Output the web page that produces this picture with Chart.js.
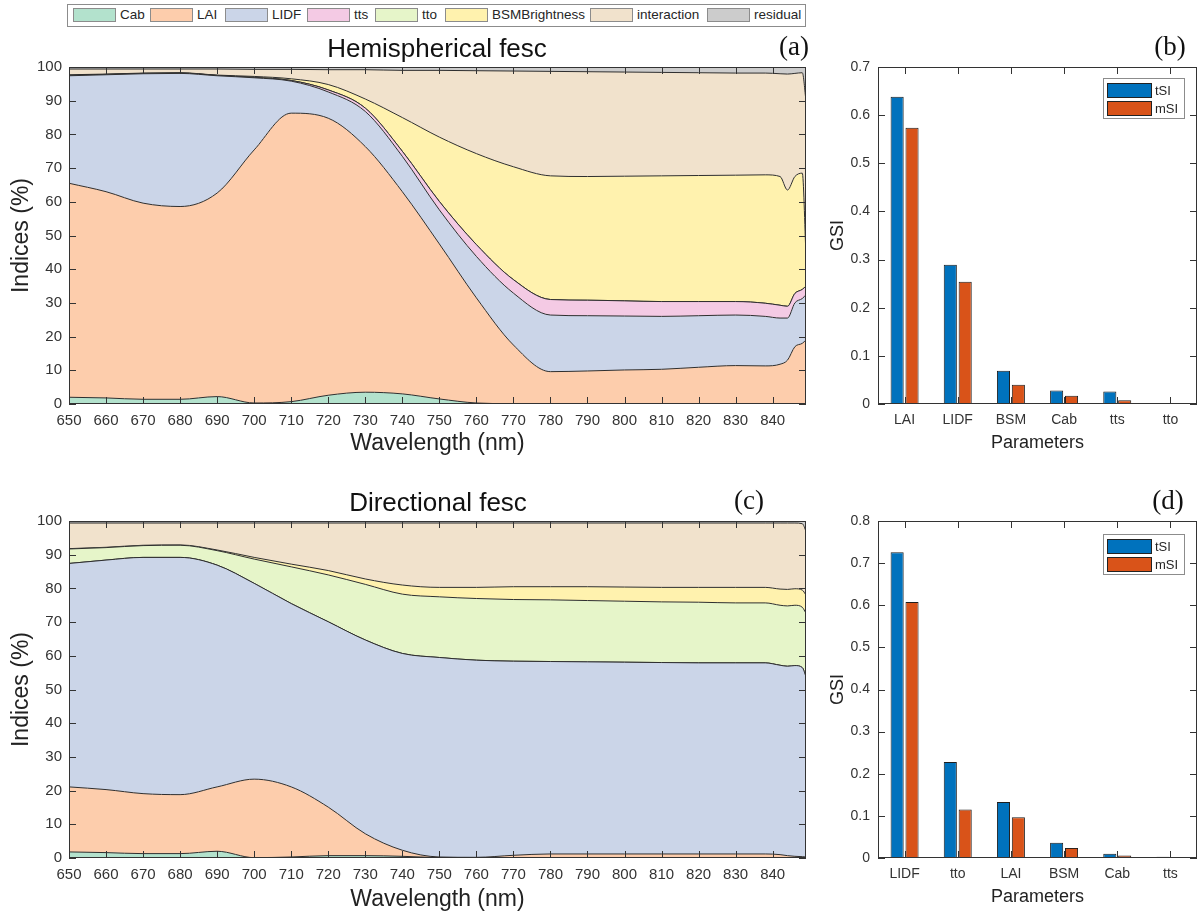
<!DOCTYPE html>
<html>
<head>
<meta charset="utf-8">
<title>fesc sensitivity</title>
<script src="https://cdn.jsdelivr.net/npm/chart.js@4.4.1/dist/chart.umd.min.js"></script>
<style>
  html, body { margin: 0; padding: 0; background: #fff; }
  body { width: 1203px; height: 915px; position: relative; overflow: hidden;
         font-family: "Liberation Sans", Arial, sans-serif; color: #262626; }
  canvas { position: absolute; }
  .lbl { position: absolute; transform: translate(-50%, -50%); white-space: nowrap; line-height: 1; }
  .ttl { font-size: 26px; color: #111; }
  .tag { font-family: "Liberation Serif", "Times New Roman", serif; font-size: 27px; color: #111; }
  #legend { position: absolute; left: 67px; top: 4px; width: 737px; height: 21px;
            border: 1px solid #8c8c8c; background: #fff; }
  .patch { position: absolute; width: 41px; height: 12px; border: 1px solid #8c8c8c; }
  .ltxt { position: absolute; font-size: 13.5px; line-height: 1; color: #262626; }
  .blegend { position: absolute; left: 1103px; width: 80px; height: 39px;
             border: 1px solid #8c8c8c; background: #fff; }
  .bpatch { position: absolute; left: 3px; width: 43px; height: 13px; border: 1px solid #222; }
  .btxt { position: absolute; left: 51px; font-size: 13px; line-height: 1; color: #262626; }
</style>
</head>
<body>
<div id="legend"></div>

<canvas id="chartA" width="820" height="415" style="left:0px;top:55px"></canvas>
<canvas id="chartB" width="383" height="415" style="left:820px;top:55px"></canvas>
<canvas id="chartC" width="820" height="415" style="left:0px;top:509px"></canvas>
<canvas id="chartD" width="383" height="415" style="left:820px;top:509px"></canvas>

<div class="lbl ttl" style="left:437px;top:48px">Hemispherical fesc</div>
<div class="lbl tag" style="left:794px;top:46px">(a)</div>
<div class="lbl tag" style="left:1170px;top:46px">(b)</div>
<div class="lbl ttl" style="left:438px;top:502px">Directional fesc</div>
<div class="lbl tag" style="left:749px;top:500px">(c)</div>
<div class="lbl tag" style="left:1168px;top:500px">(d)</div>

<div class="blegend" style="top:78px">
  <div class="bpatch" style="top:4px;background:#0072BD"></div><div class="btxt" style="top:5px">tSI</div>
  <div class="bpatch" style="top:22px;background:#D95319"></div><div class="btxt" style="top:23px">mSI</div>
</div>
<div class="blegend" style="top:534px">
  <div class="bpatch" style="top:4px;background:#0072BD"></div><div class="btxt" style="top:5px">tSI</div>
  <div class="bpatch" style="top:22px;background:#D95319"></div><div class="btxt" style="top:23px">mSI</div>
</div>

<script>
// ---- data ----
const PARAMS = ["Cab", "LAI", "LIDF", "tts", "tto", "BSMBrightness", "interaction", "residual"];
const FILLS = ["#b3e2cd", "#fdcdac", "#cbd5e8", "#f4cae4", "#e6f5c9", "#fff2ae", "#f1e2cc", "#cccccc"];

const WAVELENGTH = [650, 660, 670, 680, 690, 700, 710, 720, 730, 740, 750, 760, 770,
                    780, 790, 800, 810, 820, 830, 838, 842, 844, 846, 848, 849];

// hemispherical fesc, contribution of each term (%)
const hemCab   = [2.0, 1.8, 1.4, 1.4, 2.2, 0.3, 0.7, 2.6, 3.5, 3.0, 1.5, 0.3, 0.1, 0.1, 0.1, 0.1, 0.1, 0.1, 0.1, 0.1, 0.1, 0.1, 0.1, 0.1, 0.1];
const hemLAI   = [63.5, 61.2, 58.2, 57.2, 60.4, 75.1, 85.6, 82.2, 72.9, 60.0, 46.0, 31.2, 17.4, 9.5, 9.7, 10.0, 10.2, 10.8, 11.3, 11.2, 11.7, 12.9, 16.9, 17.9, 18.9];
const hemLIDF  = [31.9, 34.7, 38.4, 39.5, 34.8, 21.4, 9.5, 7.8, 10.4, 10.5, 10.1, 12.3, 15.4, 16.8, 16.4, 16.0, 15.7, 15.3, 15.0, 14.7, 13.7, 12.5, 13.0, 13.3, 13.4];
const hemTts   = [0.1, 0.1, 0.1, 0.1, 0.1, 0.1, 0.2, 0.6, 1.0, 1.5, 2.5, 3.5, 4.0, 4.6, 4.6, 4.5, 4.4, 4.2, 4.0, 3.9, 3.8, 3.5, 2.8, 2.7, 2.6];
const hemTto   = [0, 0, 0, 0, 0, 0, 0, 0, 0, 0, 0, 0, 0, 0, 0, 0, 0, 0, 0, 0, 0, 0, 0, 0, 0];
const hemBSM   = [0.2, 0.1, 0.1, 0.1, 0.1, 0.3, 0.5, 1.6, 2.7, 10.0, 19.1, 27.0, 33.5, 36.7, 36.7, 37.0, 37.3, 37.4, 37.5, 38.1, 38.2, 34.5, 34.7, 34.5, 9.0];
const hemInter = [1.7, 1.5, 1.2, 1.1, 1.8, 2.1, 2.8, 4.4, 8.7, 14.0, 19.8, 24.6, 28.4, 31.0, 31.1, 30.9, 30.7, 30.5, 30.3, 30.2, 30.5, 34.4, 30.6, 29.8, 46.0];
const hemRes   = [0.6, 0.6, 0.6, 0.6, 0.6, 0.7, 0.7, 0.8, 0.8, 1.0, 1.0, 1.1, 1.2, 1.3, 1.4, 1.5, 1.6, 1.7, 1.8, 1.8, 2.0, 2.1, 1.9, 1.7, 10.0];

// directional fesc, contribution of each term (%)
const dirCab   = [1.8, 1.6, 1.3, 1.3, 2.0, 0.1, 0.3, 0.7, 0.7, 0.5, 0.1, 0, 0, 0.1, 0.1, 0.1, 0.1, 0.1, 0.1, 0.1, 0.1, 0.1, 0.1, 0.1, 0.1];
const dirLAI   = [19.3, 18.7, 17.8, 17.5, 19.1, 23.3, 20.8, 14.4, 6.5, 1.8, 0.2, 0.2, 0.8, 1.1, 1.1, 1.1, 1.1, 1.1, 1.1, 1.1, 0.9, 0.6, 0.4, 0.3, 0.2];
const dirLIDF  = [66.3, 68.1, 70.1, 70.4, 65.8, 58.1, 54.4, 55.0, 57.5, 58.4, 59.2, 58.5, 57.6, 57.1, 57.0, 56.9, 56.8, 56.7, 56.7, 56.7, 56.2, 56.2, 56.6, 56.1, 53.5];
const dirTts   = [0, 0, 0, 0, 0, 0, 0, 0, 0, 0, 0, 0, 0, 0, 0, 0, 0, 0, 0, 0, 0, 0, 0, 0, 0];
const dirTto   = [4.3, 3.7, 3.5, 3.6, 4.3, 7.2, 10.9, 13.9, 16.5, 17.6, 18.0, 18.3, 18.3, 18.3, 18.2, 18.1, 18.0, 18.0, 17.8, 17.8, 17.8, 17.9, 17.9, 17.9, 18.8];
const dirBSM   = [0.1, 0.1, 0.1, 0.1, 0.2, 0.5, 0.8, 1.3, 1.6, 2.7, 2.8, 3.3, 3.8, 3.9, 4.1, 4.2, 4.3, 4.4, 4.6, 4.6, 4.8, 4.9, 4.9, 5.1, 5.4];
const dirInter = [7.6, 7.2, 6.6, 6.5, 8.0, 10.2, 12.2, 14.1, 16.6, 18.4, 19.1, 19.1, 18.9, 18.9, 18.9, 19.0, 19.1, 19.1, 19.1, 19.1, 19.6, 19.7, 19.5, 19.7, 19.0];
const dirRes   = [0.6, 0.6, 0.6, 0.6, 0.6, 0.6, 0.6, 0.6, 0.6, 0.6, 0.6, 0.6, 0.6, 0.6, 0.6, 0.6, 0.6, 0.6, 0.6, 0.6, 0.6, 0.6, 0.6, 0.8, 3.0];

// global sensitivity indices
const hemParams = ["LAI", "LIDF", "BSM", "Cab", "tts", "tto"];
const hemTSI = [0.638, 0.289, 0.069, 0.028, 0.026, 0.001];
const hemMSI = [0.574, 0.254, 0.040, 0.017, 0.008, 0.0];

const dirParams = ["LIDF", "tto", "LAI", "BSM", "Cab", "tts"];
const dirTSI = [0.726, 0.228, 0.133, 0.036, 0.010, 0.003];
const dirMSI = [0.608, 0.115, 0.097, 0.024, 0.006, 0.002];

// ---- top legend ----
const legendX = [5, 82, 157, 239, 307, 377, 522, 639];   // patch offsets inside the box
const legendEl = document.getElementById("legend");
PARAMS.forEach((name, k) => {
    const p = document.createElement("div");
    p.className = "patch";
    p.style.left = legendX[k] + "px";
    p.style.top = "3px";
    p.style.background = FILLS[k];
    legendEl.appendChild(p);
    const t = document.createElement("div");
    t.className = "ltxt";
    t.style.left = (legendX[k] + 47) + "px";
    t.style.top = "3px";
    t.textContent = name;
    legendEl.appendChild(t);
});

// ---- charts ----
Chart.defaults.font.family = '"Liberation Sans", Arial, sans-serif';
Chart.defaults.color = "#333";

// MATLAB style box with inward tick marks on all four sides
const matlabFrame = {
    id: "matlabFrame",
    afterDatasetsDraw(chart) {
        const { ctx, chartArea: a, scales } = chart;
        const len = 7;
        ctx.save();
        ctx.strokeStyle = "#333";
        ctx.lineWidth = 1;
        ctx.beginPath();
        scales.x.ticks.forEach((t, i) => {
            const px = Math.round(scales.x.getPixelForTick(i)) + 0.5;
            ctx.moveTo(px, a.bottom); ctx.lineTo(px, a.bottom - len);
            ctx.moveTo(px, a.top); ctx.lineTo(px, a.top + len);
        });
        scales.y.ticks.forEach((t, i) => {
            const py = Math.round(scales.y.getPixelForTick(i)) + 0.5;
            ctx.moveTo(a.left, py); ctx.lineTo(a.left + len, py);
            ctx.moveTo(a.right, py); ctx.lineTo(a.right - len, py);
        });
        ctx.stroke();
        ctx.strokeRect(Math.round(a.left) + 0.5, Math.round(a.top) + 0.5,
                       Math.round(a.right - a.left) - 1, Math.round(a.bottom - a.top) - 1);
        ctx.restore();
    }
};

// fixed axis boxes so every panel lines up with the others
function fixX(h) {
    return s => { s.height = h; s.paddingLeft = 0; s.paddingRight = 0; };
}
function fixY(w) {
    return s => { s.width = w; s.paddingTop = 0; s.paddingBottom = 0; };
}

function areaChart(canvasId, series, xTitlePad) {
    const datasets = series.map((vals, k) => ({
        label: PARAMS[k],
        data: WAVELENGTH.map((w, i) => ({ x: w, y: vals[i] })),
        backgroundColor: FILLS[k],
        borderColor: "#2e2e2e",
        borderWidth: 1,
        pointRadius: 0,
        fill: k === 0 ? "origin" : "-1",
        cubicInterpolationMode: "monotone",
    }));
    return new Chart(document.getElementById(canvasId), {
        type: "line",
        data: { datasets },
        plugins: [matlabFrame],
        options: {
            responsive: false,
            animation: false,
            events: [],
            layout: { padding: { top: 12, right: 14, left: 0, bottom: 0 } },
            plugins: { legend: { display: false }, tooltip: { enabled: false } },
            scales: {
                x: {
                    type: "linear", min: 650, max: 849,
                    afterFit: fixX(66),
                    ticks: { stepSize: 10, includeBounds: false, padding: 8, maxRotation: 0,
                             autoSkip: false, font: { size: 15 }, color: "#333" },
                    grid: { display: false, drawTicks: false },
                    border: { display: false },
                    title: { display: true, text: "Wavelength (nm)", color: "#222",
                             font: { size: 23 }, padding: { top: 0, bottom: xTitlePad } },
                },
                y: {
                    stacked: true, min: 0, max: 100,
                    afterFit: fixY(69),
                    ticks: { stepSize: 10, padding: 7, font: { size: 15 }, color: "#333" },
                    grid: { display: false, drawTicks: false },
                    border: { display: false },
                    title: { display: true, text: "Indices (%)", color: "#222",
                             font: { size: 23 }, padding: { top: 8, bottom: 0 } },
                },
            },
        },
    });
}

function barChart(canvasId, labels, tsi, msi, yMax) {
    const common = { borderColor: "#1e1e1e", borderWidth: 1, categoryPercentage: 0.56, barPercentage: 0.88 };
    return new Chart(document.getElementById(canvasId), {
        type: "bar",
        data: {
            labels,
            datasets: [
                { label: "tSI", data: tsi, backgroundColor: "#0072BD", ...common },
                { label: "mSI", data: msi, backgroundColor: "#D95319", ...common },
            ],
        },
        plugins: [matlabFrame],
        options: {
            responsive: false,
            animation: false,
            events: [],
            layout: { padding: { top: 12, right: 6, left: 0, bottom: 0 } },
            plugins: { legend: { display: false }, tooltip: { enabled: false } },
            scales: {
                x: {
                    afterFit: fixX(66),
                    ticks: { padding: 8, maxRotation: 0, font: { size: 14 }, color: "#333" },
                    grid: { display: false, drawTicks: false },
                    border: { display: false },
                    title: { display: true, text: "Parameters", color: "#222",
                             font: { size: 18 }, padding: { top: 0, bottom: 16 } },
                },
                y: {
                    min: 0, max: yMax,
                    afterFit: fixY(58),
                    ticks: { stepSize: 0.1, padding: 8, font: { size: 14 }, color: "#333" },
                    grid: { display: false, drawTicks: false },
                    border: { display: false },
                    title: { display: true, text: "GSI", color: "#222",
                             font: { size: 18 }, padding: { top: 7, bottom: 0 } },
                },
            },
        },
    });
}

areaChart("chartA", [hemCab, hemLAI, hemLIDF, hemTts, hemTto, hemBSM, hemInter, hemRes], 13);
barChart("chartB", hemParams, hemTSI, hemMSI, 0.7);
areaChart("chartC", [dirCab, dirLAI, dirLIDF, dirTts, dirTto, dirBSM, dirInter, dirRes], 11);
barChart("chartD", dirParams, dirTSI, dirMSI, 0.8);
</script>
</body>
</html>
